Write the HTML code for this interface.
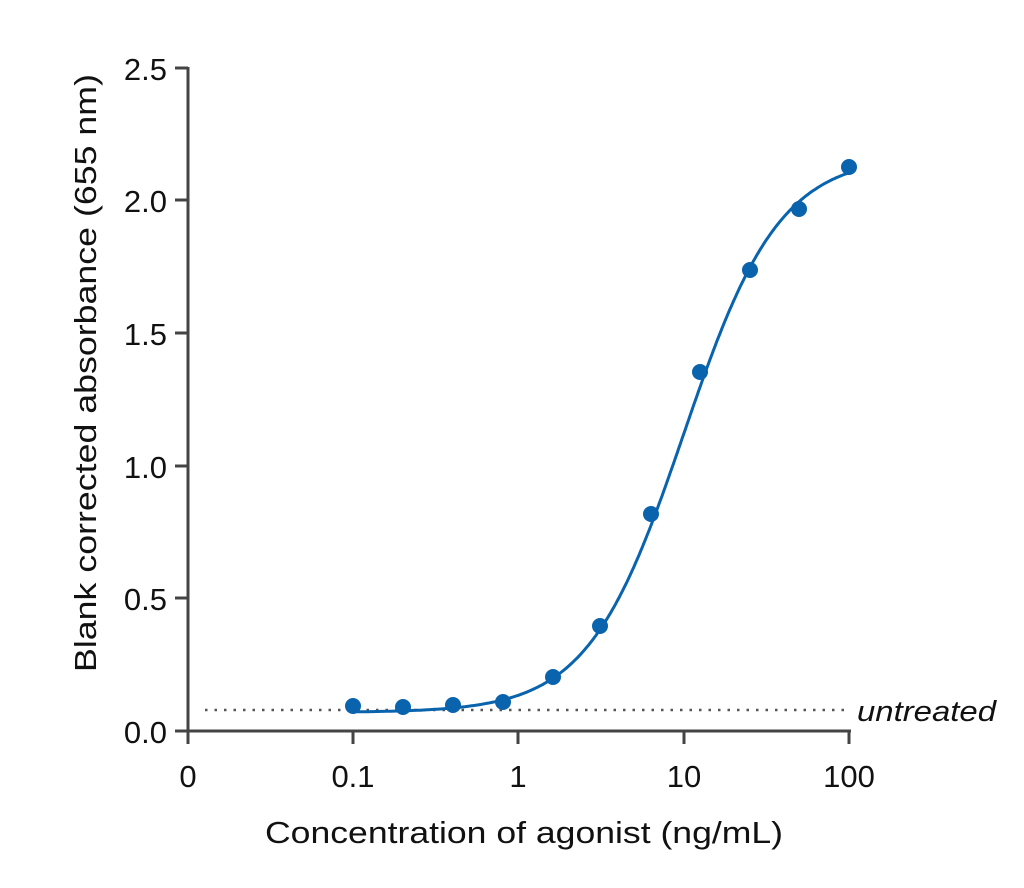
<!DOCTYPE html>
<html><head><style>
html,body{margin:0;padding:0;background:#fff;}
svg text{font-family:"Liberation Sans",sans-serif;fill:#111;}
</style></head><body>
<svg id="s" width="1024" height="883" viewBox="0 0 1024 883" xmlns="http://www.w3.org/2000/svg">
<g stroke="#444" stroke-width="3" fill="none">
<line x1="188" y1="67" x2="188" y2="744"/>
<line x1="175" y1="731" x2="851" y2="731"/>
<line x1="175" y1="68" x2="188" y2="68"/>
<line x1="175" y1="200" x2="188" y2="200"/>
<line x1="175" y1="333" x2="188" y2="333"/>
<line x1="175" y1="466" x2="188" y2="466"/>
<line x1="175" y1="598" x2="188" y2="598"/>
<line x1="353" y1="731" x2="353" y2="744"/>
<line x1="518" y1="731" x2="518" y2="744"/>
<line x1="684" y1="731" x2="684" y2="744"/>
<line x1="849" y1="731" x2="849" y2="744"/>
</g>
<line x1="205" y1="710" x2="846" y2="710" stroke="#555" stroke-width="2.5" stroke-dasharray="2.5 7"/>
<g font-size="31" text-anchor="end">
<text x="167" y="80">2.5</text>
<text x="167" y="212">2.0</text>
<text x="167" y="345">1.5</text>
<text x="167" y="478">1.0</text>
<text x="167" y="610">0.5</text>
<text x="167" y="743">0.0</text>
</g>
<g font-size="31" text-anchor="middle">
<text x="188" y="787">0</text>
<text x="353" y="787">0.1</text>
<text x="518" y="787">1</text>
<text x="684" y="787">10</text>
<text x="849" y="787">100</text>
</g>
<text x="265" y="843" font-size="31" textLength="518" lengthAdjust="spacingAndGlyphs">Concentration of agonist (ng/mL)</text>
<text transform="translate(96,672) rotate(-90)" font-size="31" textLength="598" lengthAdjust="spacingAndGlyphs">Blank corrected absorbance (655 nm)</text>
<text x="857" y="721" font-size="29" font-style="italic" textLength="139" lengthAdjust="spacingAndGlyphs">untreated</text>
<path id="c" fill="none" stroke="#0a63ad" stroke-width="3"/>
<g fill="#0a63ad">
<circle cx="353" cy="706" r="8"/><circle cx="403" cy="707" r="8"/><circle cx="453" cy="705" r="8"/>
<circle cx="503" cy="702" r="8"/><circle cx="553" cy="677" r="8"/><circle cx="600" cy="626" r="8"/>
<circle cx="651" cy="514" r="8"/><circle cx="700" cy="372" r="8"/><circle cx="750" cy="270" r="8"/>
<circle cx="799" cy="209" r="8"/><circle cx="849" cy="167" r="8"/>
</g>
</svg>
<script>
var d="";for(var i=0;i<=300;i++){var l=-1+3*i/300,c=Math.pow(10,l);
var v=0.07+2.1/(1+Math.pow(10/c,1.5));var x=518+165.7*l,y=731-v*265.2;
d+=(i?"L":"M")+x.toFixed(1)+" "+y.toFixed(1);}
document.getElementById("c").setAttribute("d",d);
</script>
</body></html>
